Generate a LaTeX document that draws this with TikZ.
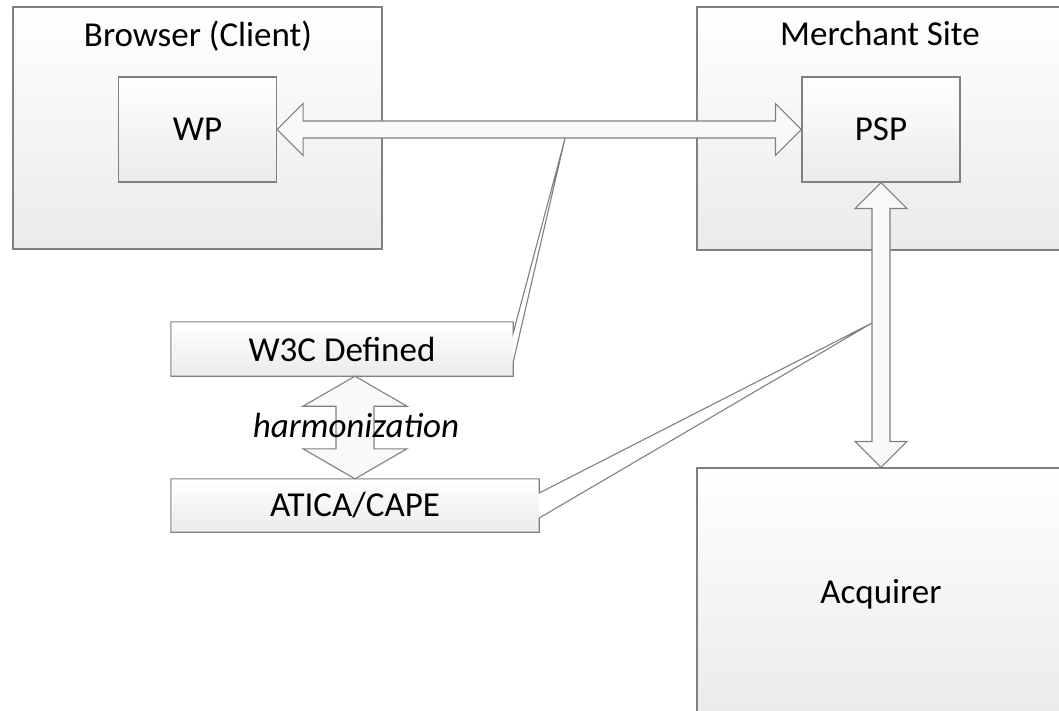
\documentclass[tikz,border=0pt]{standalone}
\usepackage{fontspec}
\setmainfont{Carlito}
\usetikzlibrary{calc}
\tikzset{
  lbl/.style={font=\fontsize{35}{41}\selectfont, inner sep=0pt},
  box/.style={lbl, draw=black!50, line width=1.1pt, top color=white, bottom color=gray!16, inner sep=0pt},
  callbox/.style={lbl, top color=white, bottom color=gray!16},
  outl/.style={draw=black!50, line width=1.1pt, line join=miter},
  barrow/.style={draw=black!50, line width=1.1pt, fill=gray!5, line join=miter},
}
\begin{document}
\begin{tikzpicture}[x=1pt,y=-1pt]
\useasboundingbox (0,0) rectangle (1059,711);
\clip (0,0) rectangle (1059,711);
\fill[white] (0,0) rectangle (1059,711);
% containers
\node[box, minimum width=369, minimum height=242] (browser) at (197.5,128) {};
\node[lbl, anchor=base] (browsertitle) at (198,47) {Browser (Client)};
\node[box, minimum width=368, minimum height=243] (merchant) at (881,128.5) {};
\node[lbl, anchor=base] (merchanttitle) at (880,46) {Merchant Site};
\node[box, minimum width=368, minimum height=252] (acq) at (881,594) {Acquirer};
% inner boxes
\node[box, minimum width=158, minimum height=105] (wp) at (197.5,129.5) {WP};
\node[box, minimum width=158, minimum height=105] (psp) at (881,129.5) {PSP};
% callouts
\coordinate (w3ctip) at (565,138.5);
\coordinate (aticatip) at (872,323);
\fill[white] (513,333) -- (w3ctip) -- (513,362) -- cycle;
\node[callbox, minimum width=342, minimum height=54] (w3c) at (342,349) {W3C Defined};
\draw[outl] ($(w3c.east)+(0,-16)$) -- (w3c.north east) -- (w3c.north west) -- (w3c.south west) -- (w3c.south east) -- ($(w3c.east)+(0,13)$) -- (w3ctip) -- cycle;
\fill[white] (539,493) -- (aticatip) -- (539,518) -- cycle;
\node[callbox, minimum width=368, minimum height=53] (atica) at (355,505.5) {ATICA/CAPE};
\draw[outl] ($(atica.east)+(0,-12.5)$) -- (atica.north east) -- (atica.north west) -- (atica.south west) -- (atica.south east) -- ($(atica.east)+(0,12.5)$) -- (aticatip) -- cycle;
% horizontal double arrow WP <-> PSP
\draw[barrow] (wp.east) -- ++(26,-26) -- ++(0,17.5) -- ($(psp.west)+(-26,-8.5)$) -- ++(0,-17.5) -- (psp.west) -- ++(-26,26) -- ++(0,-17.5) -- ($(wp.east)+(26,8.5)$) -- ++(0,17.5) -- cycle;
% vertical double arrow PSP <-> Acquirer
\draw[barrow] (psp.south) -- ++(26,26) -- ++(-17,0) -- ($(acq.north)+(9,-26)$) -- ++(17,0) -- (acq.north) -- ++(-26,-26) -- ++(17,0) -- ($(psp.south)+(-9,26)$) -- ++(-17,0) -- cycle;
% harmonization arrow
\coordinate (htop) at (atica.north |- w3c.south);
\draw[barrow] (htop) -- ++(52,30) -- ++(-33,0) -- ($(atica.north)+(19,-30)$) -- ++(33,0) -- (atica.north) -- ++(-52,-30) -- ++(33,0) -- ($(htop)+(-19,30)$) -- ++(-33,0) -- cycle;
\node[lbl, anchor=base, font=\fontsize{35}{41}\selectfont\itshape] (harm) at (356,437) {harmonization};
\end{tikzpicture}
\end{document}
